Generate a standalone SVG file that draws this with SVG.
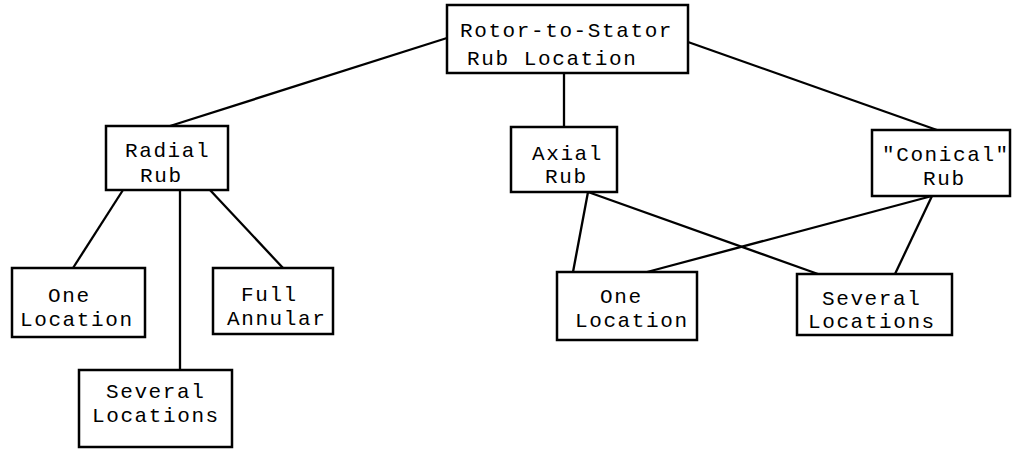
<svg xmlns="http://www.w3.org/2000/svg" width="1012" height="449" viewBox="0 0 1012 449">
<style>
.box{fill:#fff;stroke:#000;stroke-width:2.5}
.ln{stroke:#000;stroke-width:2.3;fill:none}
text{font-family:"Liberation Mono","DejaVu Sans Mono",monospace;font-size:21px;letter-spacing:1.6px;fill:#000}
</style>
<rect width="1012" height="449" fill="#fff"/>
<g id="connectors">
<line class="ln" x1="447" y1="38" x2="170" y2="126"/>
<line class="ln" x1="564" y1="73" x2="564" y2="127"/>
<line class="ln" x1="688" y1="42" x2="937" y2="130"/>
<line class="ln" x1="123" y1="190" x2="73" y2="268"/>
<line class="ln" x1="180" y1="190" x2="180" y2="370"/>
<line class="ln" x1="210" y1="190" x2="283" y2="268"/>
<line class="ln" x1="588" y1="192" x2="573" y2="272"/>
<line class="ln" x1="588" y1="192" x2="818" y2="274"/>
<line class="ln" x1="932" y1="196" x2="647" y2="272"/>
<line class="ln" x1="932" y1="196" x2="895" y2="274"/>
</g>
<g id="root"><rect class="box" x="447" y="5" width="241" height="68"/><text x="460" y="37">Rotor-to-Stator</text><text x="467" y="65">Rub Location</text></g>
<g id="radial"><rect class="box" x="106" y="126" width="122" height="64"/><text x="125" y="157">Radial</text><text x="140" y="182">Rub</text></g>
<g id="axial"><rect class="box" x="511" y="127" width="106" height="65"/><text x="532" y="160">Axial</text><text x="545" y="183">Rub</text></g>
<g id="conical"><rect class="box" x="872" y="130" width="138" height="66"/><text x="882" y="161">"Conical"</text><text x="923" y="185">Rub</text></g>
<g id="radial-one"><rect class="box" x="12" y="268" width="133" height="69"/><text x="48" y="302">One</text><text x="20" y="326">Location</text></g>
<g id="radial-full"><rect class="box" x="213" y="268" width="120" height="66"/><text x="241" y="301">Full</text><text x="227" y="325">Annular</text></g>
<g id="radial-several"><rect class="box" x="79" y="370" width="153" height="77"/><text x="106" y="398">Several</text><text x="92" y="422">Locations</text></g>
<g id="one-location"><rect class="box" x="557" y="272" width="140" height="68"/><text x="600" y="303">One</text><text x="575" y="327">Location</text></g>
<g id="several-locations"><rect class="box" x="797" y="274" width="155" height="61"/><text x="822" y="305">Several</text><text x="808" y="328">Locations</text></g>
</svg>
